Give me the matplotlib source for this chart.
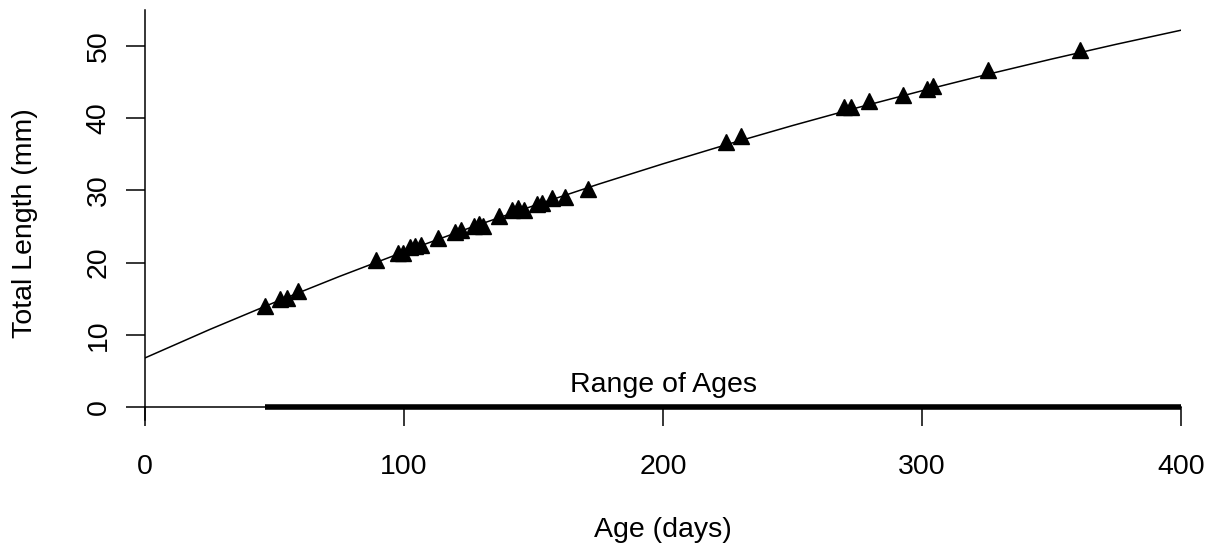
import matplotlib
matplotlib.use("Agg")
import matplotlib.pyplot as plt

plt.rcParams['font.family'] = ['Liberation Sans', 'DejaVu Sans']

# observed fish: age (days) and total length (mm)
ages = [46.3, 52.1, 54.8, 59.0, 89.2, 97.7, 99.6, 102.3, 104.2, 106.6,
        113.0, 119.7, 122.0, 127.0, 129.0, 130.5, 136.7, 141.7, 144.0, 146.3,
        151.4, 153.3, 157.1, 162.2, 171.0, 224.3, 230.1, 270.0, 272.6, 279.5,
        292.7, 302.0, 304.2, 325.5, 361.0]
lengths = [14.0, 15.0, 15.1, 16.1, 20.4, 21.3, 21.3, 22.2, 22.3, 22.4,
           23.4, 24.2, 24.5, 25.1, 25.3, 25.1, 26.5, 27.3, 27.6, 27.3,
           28.1, 28.3, 28.9, 29.1, 30.2, 36.7, 37.5, 41.5, 41.5, 42.4,
           43.2, 44.0, 44.5, 46.7, 49.4]

# fitted growth curve
fit_age = [0, 25, 50, 75, 100, 125, 150, 175, 200, 225, 250, 275, 300, 325, 350, 375, 400]
fit_len = [6.80, 10.74, 14.49, 18.08, 21.50, 24.77, 27.88, 30.86, 33.69,
           36.40, 38.99, 41.46, 43.81, 46.06, 48.20, 50.25, 52.20]

range_end = 400
x_ticks = [0, 100, 200, 300, 400]
y_ticks = [0, 10, 20, 30, 40, 50]

fig = plt.figure(figsize=(12.12, 5.48), dpi=100)
ax = fig.add_axes([145 / 1212, 128 / 548, 1036 / 1212, 410 / 548])
ax.set_xlim(0, 400)
ax.set_ylim(-1.8, 55)

ax.plot(fit_age, fit_len, color="black", lw=1.1, zorder=3)
ax.plot(ages, lengths, ls="none", marker="^", ms=11, color="black", zorder=4)

# range of ages bar along the x axis
ax.plot([min(ages), range_end], [0, 0], color="black", lw=4.0,
        solid_capstyle="butt", zorder=5)
ax.text(200, 3.0, "Range of Ages", ha="center", va="center", fontsize=20.5)

for s in ["top", "right"]:
    ax.spines[s].set_visible(False)
ax.spines["bottom"].set_position(("data", 0))
ax.spines["bottom"].set_bounds(0, 400)
ax.spines["bottom"].set_linewidth(1.1)
ax.spines["left"].set_linewidth(1.1)

ax.set_xticks(x_ticks)
ax.set_yticks(y_ticks)
ax.tick_params(axis="x", length=14, width=1.1, pad=20, labelsize=20.5)
ax.tick_params(axis="y", length=14, width=1.1, pad=10, labelsize=20.5)
for lab in ax.get_yticklabels():
    lab.set_rotation(90)
    lab.set_va("center")

ax.set_xlabel("Age (days)", fontsize=20.5, va="center")
ax.xaxis.set_label_coords(0.5, -0.268)
ax.set_ylabel("Total Length (mm)", fontsize=20.5, va="center")
ax.yaxis.set_label_coords(-0.1158, 0.48)

fig.savefig("out.png", dpi=100)
